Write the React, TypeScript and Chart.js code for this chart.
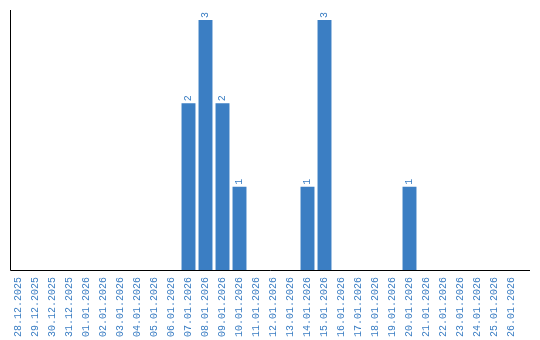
import React, { useEffect, useRef } from "react";
import { Chart, registerables } from "chart.js";

Chart.register(...registerables);

const dates = [
  "28.12.2025", "29.12.2025", "30.12.2025", "31.12.2025",
  "01.01.2026", "02.01.2026", "03.01.2026", "04.01.2026", "05.01.2026", "06.01.2026",
  "07.01.2026", "08.01.2026", "09.01.2026", "10.01.2026", "11.01.2026", "12.01.2026",
  "13.01.2026", "14.01.2026", "15.01.2026", "16.01.2026", "17.01.2026", "18.01.2026",
  "19.01.2026", "20.01.2026", "21.01.2026", "22.01.2026", "23.01.2026", "24.01.2026",
  "25.01.2026", "26.01.2026",
];
const counts = [
  0, 0, 0, 0,
  0, 0, 0, 0, 0, 0,
  2, 3, 2, 1, 0, 0,
  0, 1, 3, 0, 0, 0,
  0, 1, 0, 0, 0, 0,
  0, 0,
];

const BLUE = "#3b7ec3";
const FONT = "'Liberation Mono', monospace";

const axisAndLabels = {
  id: "axisAndLabels",
  afterDatasetsDraw(chart: any) {
    const ctx = chart.ctx;
    const area = chart.chartArea;
    ctx.save();
    ctx.strokeStyle = "#000";
    ctx.lineWidth = 1;
    ctx.beginPath();
    ctx.moveTo(10.5, area.top);
    ctx.lineTo(10.5, area.bottom + 0.5);
    ctx.lineTo(530, area.bottom + 0.5);
    ctx.stroke();

    const meta = chart.getDatasetMeta(0);
    ctx.fillStyle = BLUE;
    ctx.font = "10px " + FONT;
    ctx.textAlign = "left";
    ctx.textBaseline = "middle";
    meta.data.forEach((bar: any, i: number) => {
      const v = counts[i];
      if (!v) return;
      ctx.save();
      ctx.translate(bar.x, bar.y - 2);
      ctx.rotate(-Math.PI / 2);
      ctx.fillText(String(v), 0, 0);
      ctx.restore();
    });
    ctx.restore();
  },
};

export default function App() {
  const ref = useRef<HTMLCanvasElement>(null);
  useEffect(() => {
    if (!ref.current) return;
    const chart = new Chart(ref.current, {
      type: "bar",
      data: {
        labels: dates,
        datasets: [
          {
            data: counts,
            backgroundColor: BLUE,
            categoryPercentage: 0.82,
            barPercentage: 1,
          },
        ],
      },
      options: {
        animation: false,
        responsive: false,
        maintainAspectRatio: false,
        layout: { padding: { left: 10, right: 20, top: 10, bottom: 0 } },
        plugins: {
          legend: { display: false },
          tooltip: { enabled: false },
        },
        scales: {
          x: {
            grid: { display: false, drawTicks: false },
            border: { display: false },
            ticks: {
              color: BLUE,
              font: { family: FONT, size: 10 },
              minRotation: 90,
              maxRotation: 90,
              autoSkip: false,
              padding: 7,
            },
            afterFit(scale: any) {
              scale.height = 70;
            },
          },
          y: {
            display: false,
            min: 0,
            max: 3.12,
          },
        },
      },
      plugins: [axisAndLabels],
    });
    return () => chart.destroy();
  }, []);
  return (
    <div style={{ position: "fixed", left: 0, top: 0, width: 540, height: 340, background: "#fff" }}>
      <canvas ref={ref} width={540} height={340} style={{ display: "block" }} />
    </div>
  );
}
